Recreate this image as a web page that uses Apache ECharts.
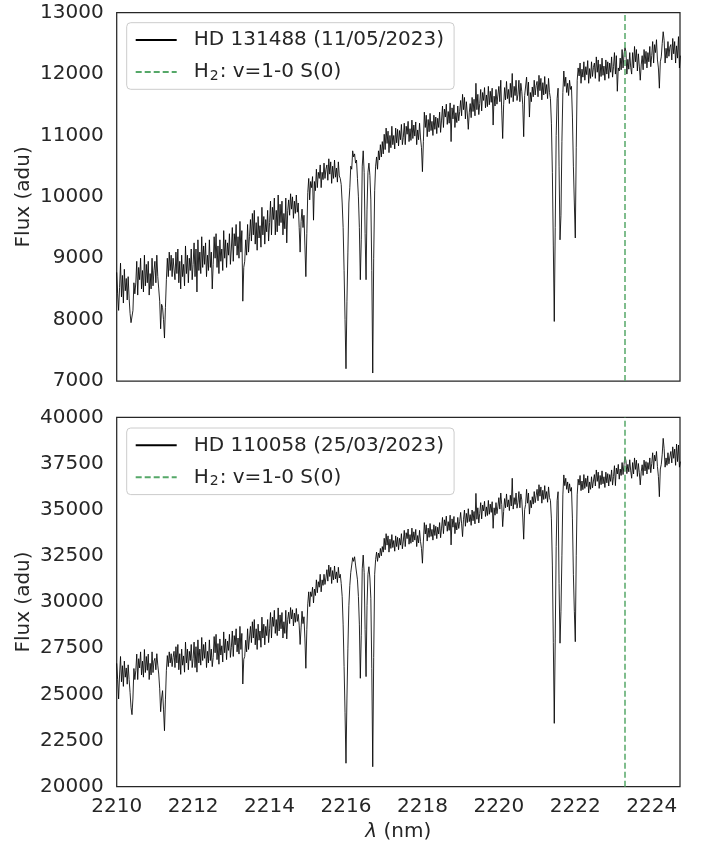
<!DOCTYPE html>
<html>
<head>
<meta charset="utf-8">
<title>K-band spectra around the H2 v=1-0 S(0) line</title>
<script src="https://cdn.jsdelivr.net/npm/echarts@6/dist/echarts.min.js"></script>
<style>
  html, body { margin: 0; padding: 0; background: #ffffff; }
  #chart { width: 703px; height: 845px; }
</style>
</head>
<body>
<div id="chart"></div>
<script>
// Wavelength sampling of both spectra (nm)
const LAMBDA_START = 2210.0;
const LAMBDA_STEP = 0.025;

// Rest wavelength of the H2 v=1-0 S(0) transition (nm)
const H2_LINE_NM = 2223.29;

// Axis ranges and ticks
const X_MIN = 2210;
const X_MAX = 2224.74;
const X_TICK_STEP = 2;
const TOP_Y = { min: 7000, max: 13000, step: 1000 };
const BOTTOM_Y = { min: 20000, max: 40000, step: 2500 };

// Series names
const NAME_TOP = 'HD 131488 (11/05/2023)';
const NAME_BOTTOM = 'HD 110058 (25/03/2023)';
const NAME_H2 = 'H2: v=1-0 S(0)';

// Flux of HD 131488 (adu), one value per wavelength sample (20 samples = 0.5 nm per row)
const fluxHD131488 = [
  8770, 8420, 8150, 8520, 8920, 8370, 8720, 8270, 8820, 8470, 8670, 8320, 8700, 8350, 8100, 7950, 7920, 8150, 8600, 8420,
  8600, 8950, 8400, 8850, 8650, 9000, 8500, 8800, 8450, 9050, 8550, 8900, 8600, 8950, 8400, 8750, 8500, 9000, 8550, 8800,
  8950, 8600, 9050, 8700, 8500, 8300, 7850, 8250, 8200, 8000, 7700, 8200, 8650, 9000, 8700, 9100, 8800, 9050, 8700, 9000,
  9000, 8650, 9100, 8750, 9150, 8600, 8950, 8500, 9050, 8700, 8900, 8550, 9200, 8750, 9050, 8600, 9000, 8800, 9150, 8650,
  8900, 9250, 8700, 9150, 8450, 9300, 8800, 9100, 8750, 9350, 8850, 9200, 8900, 9250, 8700, 9050, 8800, 9300, 8850, 9100,
  8500, 8900, 9350, 9000, 9400, 8850, 9200, 8750, 9300, 8950, 9150, 8800, 9450, 9000, 9300, 8850, 9250, 9050, 9400, 8900,
  9150, 9500, 8950, 9400, 9200, 9550, 9050, 9350, 9000, 9600, 9100, 9450, 8300, 8850, 8950, 9300, 9050, 9550, 9100, 9350,
  9630, 9280, 9730, 9380, 9780, 9230, 9580, 9130, 9680, 9330, 9530, 9180, 9830, 9380, 9680, 9230, 9630, 9430, 9780, 9280,
  9580, 9930, 9380, 9830, 9630, 9980, 9380, 9780, 9430, 10030, 9530, 9880, 9580, 9930, 9380, 9730, 9480, 9980, 9250, 9780,
  9950, 9700, 10050, 9800, 10000, 9650, 9930, 9730, 10030, 9750, 9900, 9500, 9100, 9600, 9800, 9500, 9700, 9200, 8700, 9400,
  10070, 10300, 9950, 10250, 10150, 10330, 9620, 10250, 10100, 10450, 10150, 10400, 10300, 10520, 10150, 10400, 10280, 10550, 10300, 10450,
  10520, 10270, 10620, 10370, 10570, 10220, 10500, 10300, 10600, 10320, 10470, 10240, 10570, 10340, 10300, 10200, 9900, 9500, 8800, 8000,
  7200, 8300, 9100, 9900, 10150, 10500, 10450, 10750, 10650, 10700, 10550, 10600, 10300, 10000, 9500, 8650, 9300, 10500, 10750, 10400,
  9400, 8650, 9800, 10400, 10550, 10350, 9950, 8800, 7130, 9000, 10100, 10500, 10650, 10450, 10750, 10600, 10850, 10650, 10900, 10700,
  11020, 10770, 11120, 10870, 11070, 10720, 11000, 10800, 11150, 10850, 11000, 10780, 11120, 10880, 11100, 10830, 11080, 10930, 11180, 10850,
  10970, 11200, 10850, 11150, 11020, 11230, 10900, 11110, 10920, 11250, 10950, 11170, 10990, 11220, 10850, 11090, 10930, 11200, 10960, 10800,
  10410, 10900, 11380, 11130, 11330, 10980, 11260, 11060, 11360, 11080, 11230, 11000, 11330, 11100, 11300, 11030, 11280, 11130, 11380, 11050,
  11250, 11480, 11130, 11430, 11300, 11510, 11180, 11390, 11200, 11530, 10900, 11450, 11270, 11500, 11130, 11370, 11210, 11480, 11240, 11390,
  11570, 11320, 11670, 11420, 11620, 11270, 11550, 11350, 11100, 11370, 11520, 11290, 11620, 11390, 11590, 11320, 11850, 11420, 11670, 11340,
  11520, 11750, 11400, 11700, 11570, 11780, 11450, 11660, 11470, 11800, 11500, 11720, 11540, 11770, 11170, 11640, 11480, 11750, 11510, 11660,
  11800, 11550, 11900, 11400, 10950, 11500, 11780, 11580, 11880, 11600, 11750, 11520, 11850, 11620, 12010, 11550, 11800, 11650, 11900, 11570,
  11670, 11900, 11550, 11850, 11720, 11500, 10980, 11650, 11620, 11950, 11650, 11870, 11300, 11700, 11550, 11790, 11630, 11900, 11660, 11810,
  11880, 11630, 11980, 11730, 11930, 11580, 11860, 11660, 11960, 11680, 11830, 11600, 11930, 11700, 11600, 11200, 10400, 9200, 7970, 9500,
  11000, 11600, 11770, 10500, 9300, 9700, 10900, 11700, 12050, 11800, 11950, 11700, 11850, 11650, 11900, 11750, 11800, 11300, 10500, 9900,
  9330, 10800, 11900, 12100, 11970, 12180, 11850, 12080, 11950, 12200, 11900, 12120, 11990, 12220, 11850, 12090, 11930, 12200, 11960, 12110,
  12180, 11930, 12280, 12030, 12230, 11880, 12160, 11960, 12260, 11980, 12130, 11900, 12230, 12000, 12200, 11930, 12180, 12030, 12280, 11950,
  12120, 12350, 12000, 12300, 11720, 12100, 12050, 12260, 12070, 12400, 12100, 12320, 12430, 12370, 12000, 12240, 12080, 12350, 12110, 12000,
  12350, 12100, 12450, 12200, 12400, 12050, 12330, 12130, 11900, 12150, 12300, 12070, 12400, 12170, 12370, 12100, 12350, 12200, 12450, 12120,
  12300, 12530, 12180, 12480, 12350, 12560, 12230, 12100, 11770, 12200, 12280, 12500, 12690, 12550, 12180, 12420, 12260, 12530, 12290, 12440,
  12480, 12230, 12580, 12330, 12530, 12180, 12460, 12260, 12610, 12100, 12300
];

// Flux of HD 110058 (adu), same wavelength sampling
const fluxHD110058 = [
  26680, 25800, 24750, 26050, 27050, 25680, 26550, 25430, 26800, 25930, 26430, 25550, 26600, 25800, 25100, 24300, 23900, 24800, 26400, 25800,
  26300, 27180, 25800, 26930, 26430, 27300, 26050, 26800, 25930, 27430, 26180, 27050, 26300, 27180, 25800, 26680, 26050, 27300, 26180, 26800,
  26950, 26330, 27200, 26580, 26100, 25300, 24060, 24800, 25200, 24200, 23030, 24700, 26300, 27100, 26500, 27300, 26700, 27200, 26500, 27000,
  27330, 26450, 27580, 26700, 27700, 26330, 27200, 26080, 27450, 26580, 27080, 26200, 27830, 26700, 27450, 26330, 27330, 26830, 27700, 26450,
  26950, 27830, 26450, 27580, 26200, 27950, 26700, 27450, 26580, 28080, 26830, 27700, 26950, 27830, 26450, 27330, 26700, 27950, 26830, 27450,
  26500, 27000, 28130, 27250, 28250, 26880, 27750, 26630, 28000, 27130, 27630, 26750, 28380, 27250, 28000, 26880, 27880, 27380, 28250, 27000,
  27550, 28430, 27050, 28180, 27680, 28550, 27300, 28050, 27180, 28680, 27430, 28300, 25560, 26900, 27050, 27930, 27300, 28550, 27430, 28050,
  28680, 27800, 28930, 28050, 29050, 27680, 28550, 27430, 28800, 27930, 28430, 27550, 29180, 28050, 28800, 27680, 28680, 28180, 29050, 27800,
  28550, 29430, 28050, 29180, 28680, 29550, 28300, 29050, 28180, 29680, 28430, 29300, 28550, 29430, 28050, 28930, 28300, 29550, 28000, 29050,
  29450, 28830, 29700, 29080, 29580, 28700, 29400, 28900, 29650, 28950, 29330, 28750, 27700, 28600, 29500, 28830, 29200, 28000, 26410, 28500,
  29900, 30550, 29750, 30550, 30300, 30800, 29950, 30700, 30350, 31200, 30500, 31100, 30800, 31500, 30550, 31200, 30900, 31500, 30950, 31300,
  31750, 31130, 32000, 31380, 31880, 31000, 31700, 31200, 31950, 31250, 31630, 31050, 31880, 31300, 31500, 31000, 30300, 28800, 26500, 24000,
  21270, 24800, 27500, 29800, 30900, 31600, 31700, 32400, 32200, 32450, 32000, 31900, 31200, 30300, 28800, 25870, 28200, 31800, 32540, 31600,
  28500, 25960, 29800, 31500, 31910, 31300, 30200, 26400, 21080, 27000, 31500, 32300, 32700, 32200, 32650, 32400, 32900, 32500, 33000, 32700,
  33450, 32830, 33700, 33080, 33580, 32700, 33400, 32900, 33650, 32950, 33330, 32750, 33580, 33000, 33500, 32830, 33450, 33080, 33700, 32880,
  33300, 33880, 33000, 33750, 33430, 33950, 33130, 33650, 33180, 34000, 33250, 33800, 33350, 33930, 33000, 33600, 33200, 33880, 33280, 32900,
  32100, 33300, 34300, 33680, 34180, 33300, 34000, 33500, 34250, 33550, 33930, 33350, 34180, 33600, 34100, 33430, 34050, 33680, 34300, 33480,
  34000, 34580, 33700, 34450, 34130, 34650, 33830, 34350, 33880, 34700, 33090, 34500, 34050, 34630, 33700, 34300, 33900, 34580, 33980, 34350,
  34850, 34230, 33540, 34480, 34980, 34100, 34800, 34300, 35050, 34350, 34730, 34150, 34980, 34400, 34900, 34230, 35880, 34480, 35100, 34280,
  34800, 35380, 34500, 35250, 34930, 35450, 34630, 35150, 34680, 35500, 34750, 35300, 34850, 35430, 33990, 35100, 34700, 35380, 34780, 35150,
  35650, 35030, 35900, 35280, 34080, 34900, 35600, 35100, 35850, 35150, 35530, 34950, 35780, 35200, 36700, 35030, 35650, 35280, 35900, 35080,
  35400, 35980, 35100, 35850, 35530, 34600, 33400, 35000, 35280, 36100, 35350, 35900, 34760, 35500, 35100, 35700, 35300, 35980, 35380, 35750,
  36100, 35480, 36350, 35730, 36230, 35350, 36050, 35550, 36300, 35600, 35980, 35400, 36230, 35650, 35500, 34500, 32000, 27800, 23430, 28000,
  33000, 35500, 35970, 31000, 27770, 29500, 32500, 35800, 36880, 36300, 36700, 36100, 36500, 35900, 36400, 36000, 36200, 34500, 31500, 29500,
  27850, 32500, 35800, 36650, 36330, 36850, 36030, 36550, 36080, 36900, 36150, 36700, 36250, 36830, 35900, 36500, 36100, 36780, 36180, 36550,
  36900, 36280, 37150, 36530, 37030, 36150, 36850, 36350, 37100, 36400, 36780, 36200, 37030, 36450, 36950, 36280, 36900, 36530, 37150, 36330,
  36800, 37380, 36300, 37250, 36930, 37450, 36650, 37200, 36850, 37550, 36900, 37450, 37870, 37650, 36950, 37450, 37050, 37700, 37100, 36700,
  37550, 36930, 37800, 37180, 37680, 36800, 37500, 37000, 36340, 37050, 37430, 36850, 37680, 37100, 37600, 36930, 37550, 37180, 37800, 37000,
  37500, 38080, 37200, 37950, 37630, 38150, 37330, 36800, 35700, 37200, 37450, 38000, 38860, 38300, 37300, 37800, 37400, 38080, 37480, 37850,
  38150, 37530, 38400, 37780, 38280, 37400, 38550, 37600, 38500, 37300, 37600
];

const FONT = '"DejaVu Sans", "Noto Sans", sans-serif';
const INK = '#262626';
const GREEN = '#55a868';
const DASH = [6, 3];

// Pair each flux sample with its wavelength
function toPairs(flux) {
  return flux.map((f, i) => [+(LAMBDA_START + i * LAMBDA_STEP).toFixed(3), f]);
}

const gridTop = { left: 116.7, top: 12.7, width: 563.3, height: 368.3 };
const gridBottom = { left: 116.7, top: 417.3, width: 563.3, height: 369.4 };

function gridStyle(g) {
  return Object.assign({
    show: true,
    borderColor: INK,
    borderWidth: 1.25,
    backgroundColor: 'transparent',
    containLabel: false
  }, g);
}

function xAxis(gridIndex, showLabels) {
  return {
    type: 'value',
    gridIndex: gridIndex,
    min: X_MIN,
    max: X_MAX,
    interval: X_TICK_STEP,
    axisLine: { show: false },
    axisTick: { show: false },
    splitLine: { show: false },
    axisLabel: {
      show: showLabels,
      color: INK,
      fontFamily: FONT,
      fontSize: 20,
      margin: 10,
      formatter: v => (Number.isInteger(v) ? String(v) : '')
    }
  };
}

function yAxis(gridIndex, range) {
  return {
    type: 'value',
    gridIndex: gridIndex,
    min: range.min,
    max: range.max,
    interval: range.step,
    axisLine: { show: false },
    axisTick: { show: false },
    splitLine: { show: false },
    axisLabel: {
      color: INK,
      fontFamily: FONT,
      fontSize: 20,
      margin: 13,
      formatter: v => String(v)
    }
  };
}

function spectrumSeries(name, axisIndex, flux) {
  return {
    name: name,
    type: 'line',
    xAxisIndex: axisIndex,
    yAxisIndex: axisIndex,
    data: toPairs(flux),
    symbol: 'none',
    showSymbol: false,
    silent: true,
    lineStyle: { color: '#000000', width: 0.85 },
    itemStyle: { color: '#000000' },
    z: 2
  };
}

function h2Series(axisIndex) {
  return {
    name: NAME_H2,
    type: 'line',
    xAxisIndex: axisIndex,
    yAxisIndex: axisIndex,
    data: [],
    symbol: 'none',
    silent: true,
    lineStyle: { color: GREEN, width: 1.5, type: DASH },
    itemStyle: { color: GREEN },
    markLine: {
      silent: true,
      symbol: 'none',
      label: { show: false },
      lineStyle: { color: GREEN, width: 1.5, type: DASH },
      data: [{ xAxis: H2_LINE_NM }]
    },
    z: 3
  };
}

function legend(top, starName) {
  return {
    orient: 'vertical',
    left: 126.7,
    top: top,
    data: [starName, NAME_H2],
    selectedMode: false,
    itemWidth: 41,
    itemHeight: 14,
    itemGap: 10,
    padding: [6.3, 10, 6.3, 8],
    backgroundColor: 'rgba(255,255,255,0.8)',
    borderColor: '#cccccc',
    borderWidth: 1,
    borderRadius: 4,
    // line samples only, no point markers
    itemStyle: { opacity: 0 },
    formatter: name => (name === NAME_H2
      ? '{t|H}{sub|2}{t|: v=1-0 S(0)}'
      : '{t|' + name + '}'),
    textStyle: {
      color: INK,
      fontFamily: FONT,
      fontSize: 20,
      lineHeight: 22,
      padding: [0, 0, 0, 12],
      rich: {
        t: { color: INK, fontFamily: FONT, fontSize: 20, lineHeight: 22 },
        sub: { color: INK, fontFamily: FONT, fontSize: 14, lineHeight: 14, verticalAlign: 'bottom', padding: [6, 1, 0, 1] }
      }
    }
  };
}

const chart = echarts.init(document.getElementById('chart'), null, { renderer: 'canvas' });

chart.setOption({
  animation: false,
  backgroundColor: '#ffffff',
  textStyle: { fontFamily: FONT },
  grid: [gridStyle(gridTop), gridStyle(gridBottom)],
  xAxis: [xAxis(0, false), xAxis(1, true)],
  yAxis: [yAxis(0, TOP_Y), yAxis(1, BOTTOM_Y)],
  legend: [legend(22.7, NAME_TOP), legend(428, NAME_BOTTOM)],
  series: [
    spectrumSeries(NAME_TOP, 0, fluxHD131488),
    h2Series(0),
    spectrumSeries(NAME_BOTTOM, 1, fluxHD110058),
    h2Series(1)
  ],
  graphic: [
    {
      type: 'text',
      x: 24,
      y: gridTop.top + gridTop.height / 2,
      rotation: Math.PI / 2,
      style: { text: 'Flux (adu)', font: '20px ' + FONT, fill: INK, align: 'center', verticalAlign: 'middle' }
    },
    {
      type: 'text',
      x: 24,
      y: gridBottom.top + gridBottom.height / 2,
      rotation: Math.PI / 2,
      style: { text: 'Flux (adu)', font: '20px ' + FONT, fill: INK, align: 'center', verticalAlign: 'middle' }
    },
    {
      type: 'text',
      x: gridBottom.left + gridBottom.width / 2,
      y: 831.5,
      style: {
        text: '{i|λ} (nm)',
        font: '20px ' + FONT,
        fill: INK,
        align: 'center',
        verticalAlign: 'middle',
        rich: { i: { fontStyle: 'italic', fontFamily: FONT, fontSize: 20, fill: INK } }
      }
    }
  ]
});
</script>
</body>
</html>
